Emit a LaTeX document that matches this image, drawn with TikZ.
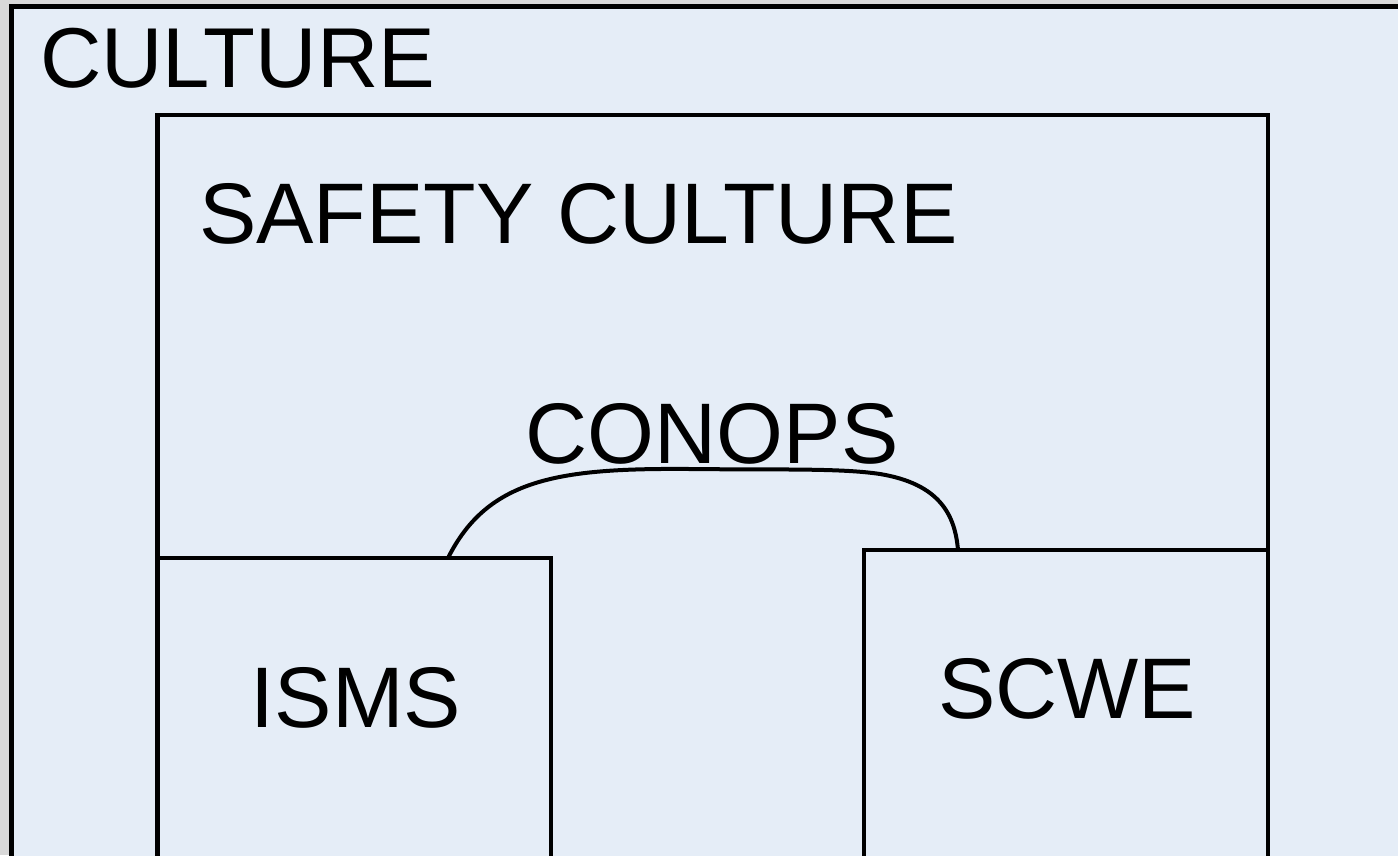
\documentclass[tikz,border=0pt]{standalone}
\usepackage{fontspec}
\setmainfont{Liberation Sans}
\definecolor{bgfill}{HTML}{E5EDF7}
\definecolor{pagegray}{HTML}{D9D9D9}
\tikzset{
  region/.style={draw=black, fill=bgfill, line width=4.5pt, line join=miter},
  biglabel/.style={inner sep=0pt, font=\fontsize{86}{98}\selectfont, text=black},
  link/.style={draw=black, line width=4pt}
}
\begin{document}
\begin{tikzpicture}[x=1pt,y=-1pt]
\useasboundingbox (0,0) rectangle (1398,855);
\fill[pagegray] (0,0) rectangle (1398,855);
% boxes
\path[region] (11.5,6.5) rectangle (1430,880);
\path[region] (157.5,115) rectangle (1268,880);
\path[region] (157.5,558) rectangle (551,880);
\path[region] (864,550) rectangle (1268,880);
% named points on the boxes
\coordinate (ismsTop) at (448,558);
\coordinate (scweTop) at (958,550);
% labels
\node[biglabel, font=\fontsize{85}{96}\selectfont, anchor=base west] (culture) at (40,87) {CULTURE};
\node[biglabel, anchor=base west] (safety) at (199,243) {SAFETY CULTURE};
\node[biglabel, anchor=base] (conops) at (712,463) {CONOPS};
\node[biglabel, anchor=base] (isms) at (356,727) {ISMS};
\node[biglabel, anchor=base] (scwe) at (1067,718) {SCWE};
% CONOPS connector
\draw[link] (ismsTop) .. controls (488,478) and (560,468) .. (690,469)
  .. controls (780,470) and (840,468) .. (880,474)
  .. controls (940,484) and (955,515) .. (scweTop);
\end{tikzpicture}
\end{document}
